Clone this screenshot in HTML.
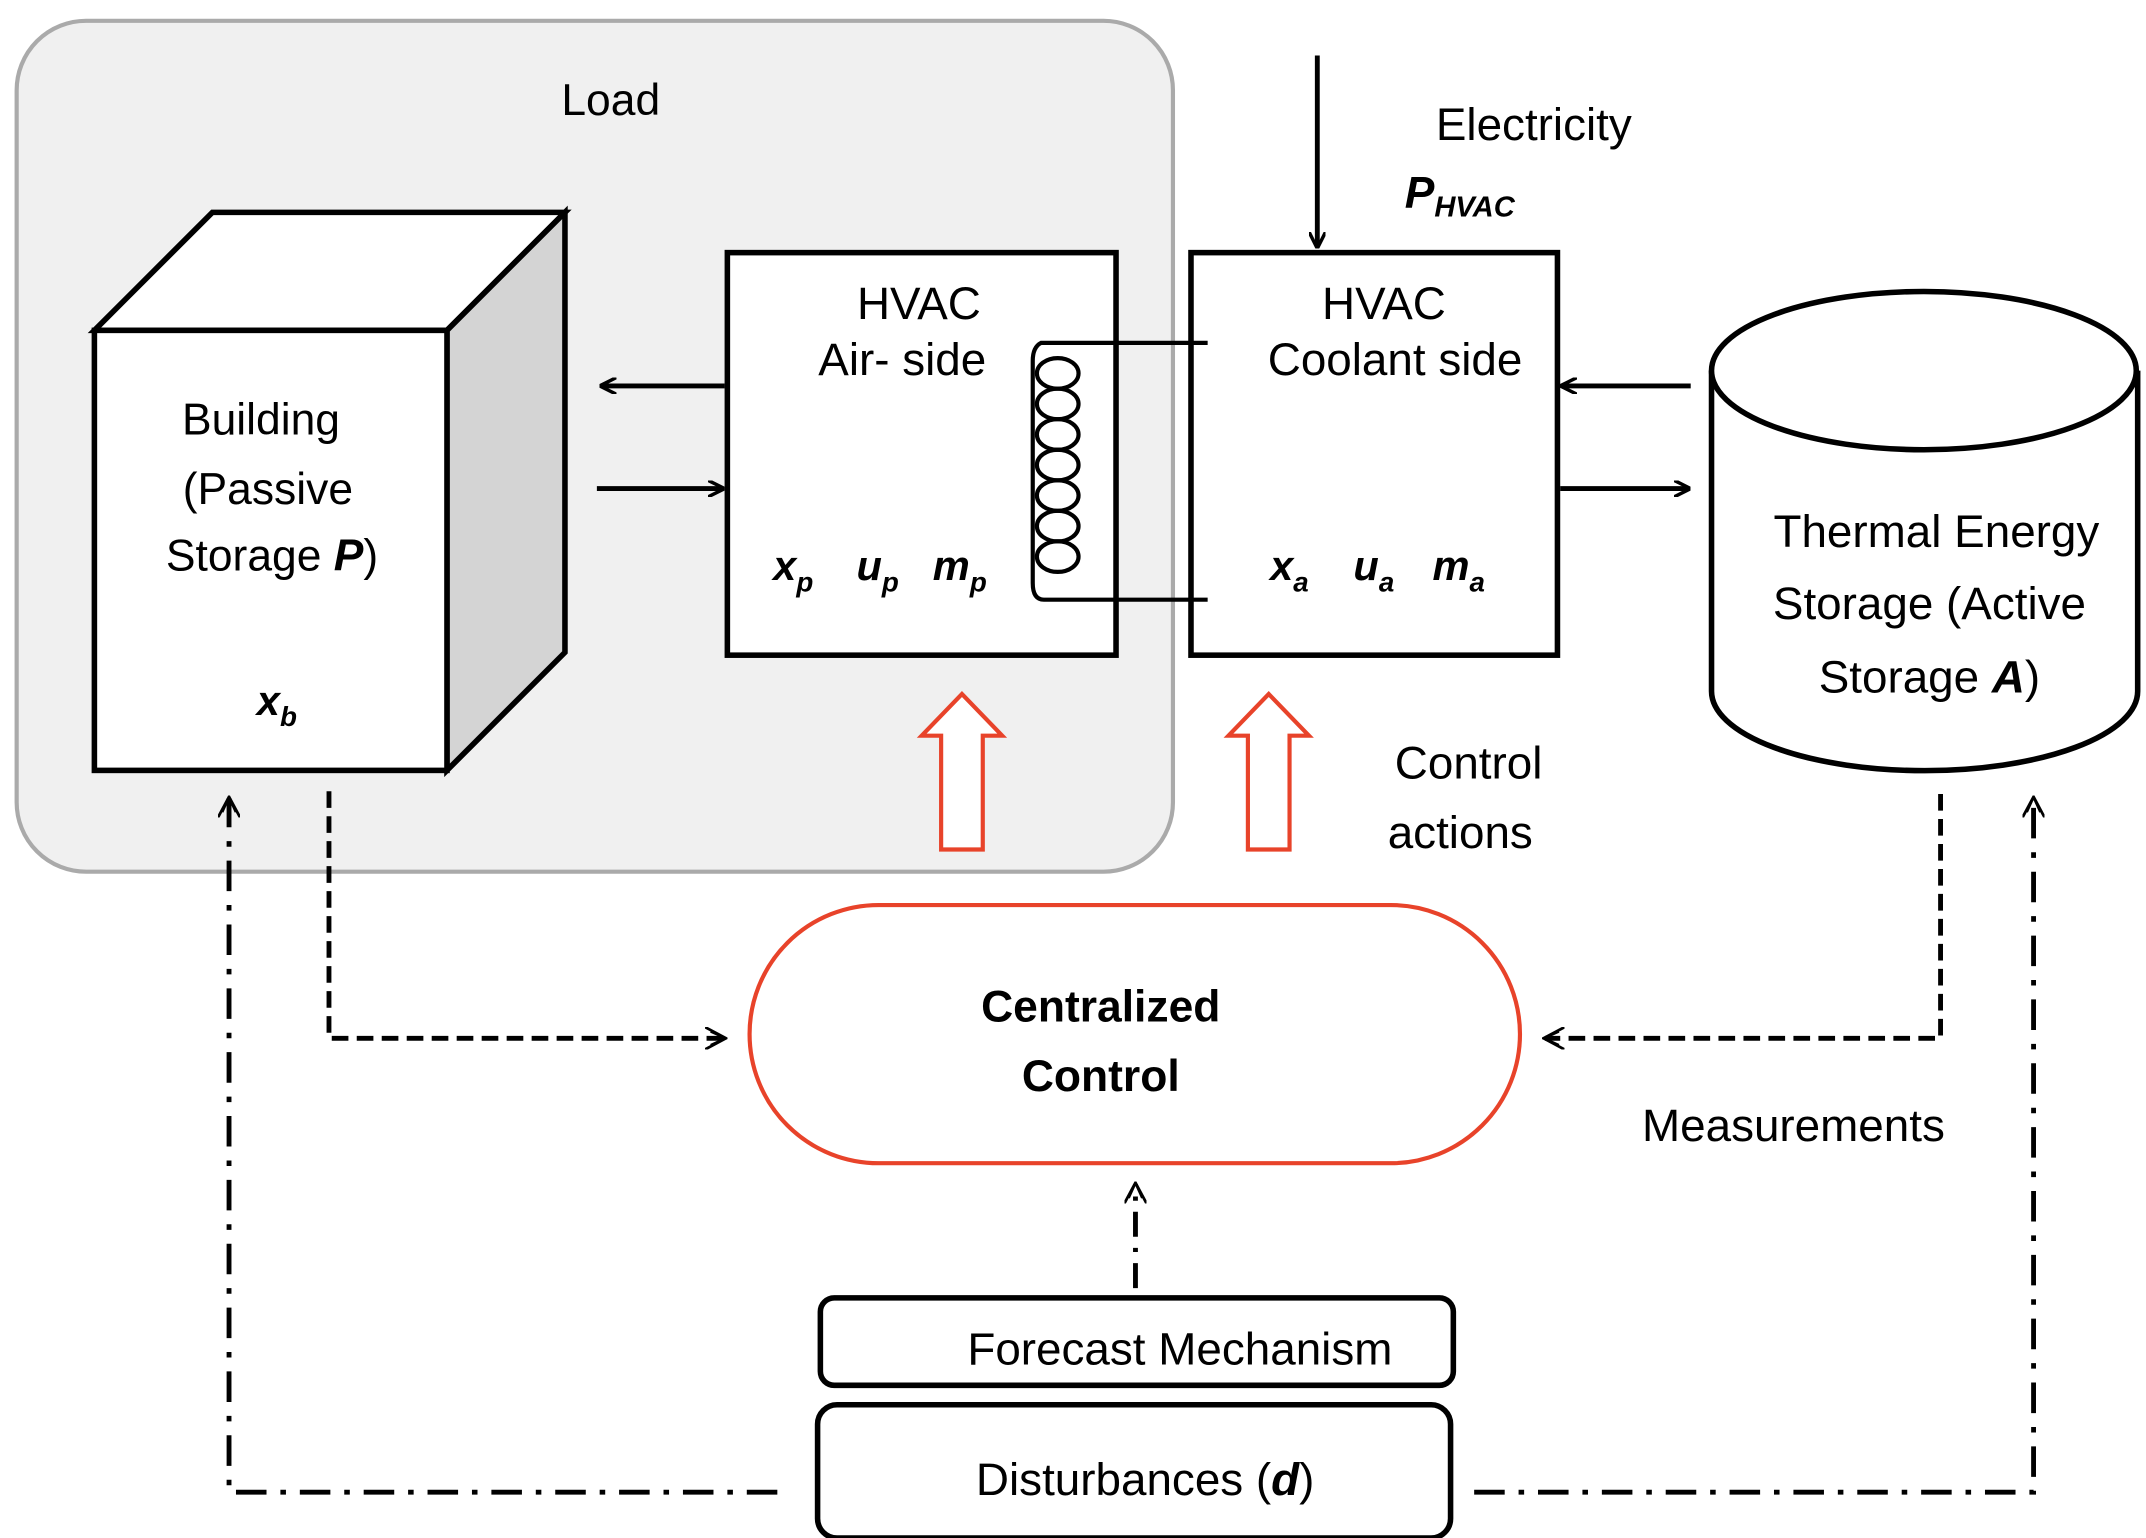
<!DOCTYPE html>
<html><head><meta charset="utf-8"><style>html,body{margin:0;padding:0;background:#fff}svg{display:block}</style></head>
<body>
<svg width="2146" height="1538" viewBox="0 0 1546 1108" preserveAspectRatio="none" xmlns="http://www.w3.org/2000/svg" font-family="Liberation Sans, sans-serif" font-size="33" fill="#000">
<defs>
<marker id="ah" markerWidth="12" markerHeight="12" refX="11" refY="6" orient="auto" markerUnits="userSpaceOnUse"><path d="M0,0 L12,6 L0,12" fill="none" stroke="#000" stroke-width="2.5"/></marker>
<marker id="ah2" markerWidth="16" markerHeight="16" refX="14" refY="8" orient="auto" markerUnits="userSpaceOnUse"><path d="M0,0 L15,8 L0,16 M4,3 L15,8 L4,13" fill="none" stroke="#000" stroke-width="2"/></marker>
</defs>
<rect x="12" y="15" width="833" height="613" rx="50" fill="#f0f0f0" stroke="#aaa" stroke-width="3"/>
<text x="440" y="83" text-anchor="middle" font-size="32">Load</text>
<polygon points="68,238 153,153 407,153 322,238" fill="#fff" stroke="#000" stroke-width="4"/>
<polygon points="322,238 407,153 407,470 322,555" fill="#d4d4d4" stroke="#000" stroke-width="4"/>
<rect x="68" y="238" width="254" height="317" fill="#fff" stroke="#000" stroke-width="4"/>
<g text-anchor="middle" font-size="32">
<text x="188" y="313">Building</text>
<text x="193" y="363">(Passive</text>
<text x="196" y="411">Storage  <tspan font-weight="bold" font-style="italic">P</tspan>)</text>
</g>
<text x="185" y="515" font-weight="bold" font-style="italic" font-size="30">x<tspan font-size="20" dy="8">b</tspan></text>
<rect x="524" y="182" width="280" height="290" fill="#fff" stroke="#000" stroke-width="4"/>
<rect x="858" y="182" width="264" height="290" fill="#fff" stroke="#000" stroke-width="4"/>
<g text-anchor="middle">
<text x="662" y="230">HVAC</text>
<text x="650" y="270">Air-  side</text>
<text x="997" y="230">HVAC</text>
<text x="1005" y="270">Coolant side</text>
</g>
<g font-weight="bold" font-style="italic" font-size="30">
<text x="557" y="418">x<tspan font-size="20" dy="8">p</tspan></text>
<text x="617" y="418">u<tspan font-size="20" dy="8">p</tspan></text>
<text x="672" y="418">m<tspan font-size="20" dy="8">p</tspan></text>
<text x="915" y="418">x<tspan font-size="20" dy="8">a</tspan></text>
<text x="975" y="418">u<tspan font-size="20" dy="8">a</tspan></text>
<text x="1032" y="418">m<tspan font-size="20" dy="8">a</tspan></text>
</g>
<g fill="none" stroke="#000" stroke-width="3">
<path d="M870,247 L750,247 Q744,250 744,260 L744,420 Q744,432 752,432 L870,432"/>
<ellipse cx="762" cy="269" rx="15" ry="11"/>
<ellipse cx="762" cy="291" rx="15" ry="11"/>
<ellipse cx="762" cy="313" rx="15" ry="11"/>
<ellipse cx="762" cy="335" rx="15" ry="11"/>
<ellipse cx="762" cy="357" rx="15" ry="11"/>
<ellipse cx="762" cy="379" rx="15" ry="11"/>
<ellipse cx="762" cy="401" rx="15" ry="11"/>
</g>
<g stroke="#000" stroke-width="3.5" fill="none" marker-end="url(#ah)">
<line x1="522" y1="278" x2="433" y2="278"/>
<line x1="430" y1="352" x2="521" y2="352"/>
<line x1="1218" y1="278" x2="1125" y2="278"/>
<line x1="1124" y1="352" x2="1217" y2="352"/>
<line x1="949" y1="40" x2="949" y2="178"/>
</g>
<text x="1105" y="101" text-anchor="middle">Electricity</text>
<text x="1012" y="150" font-weight="bold" font-style="italic" font-size="32">P<tspan font-size="21" dy="6">HVAC</tspan></text>
<path d="M1233,267 L1233,498 A153,57 0 0 0 1540,498 L1540,267" fill="#fff" stroke="#000" stroke-width="4"/>
<ellipse cx="1386" cy="267" rx="153" ry="57" fill="#fff" stroke="#000" stroke-width="4"/>
<g text-anchor="middle">
<text x="1395" y="394">Thermal Energy</text>
<text x="1390" y="446">Storage (Active</text>
<text x="1390" y="499">Storage <tspan font-weight="bold" font-style="italic">A</tspan>)</text>
</g>
<g fill="#fff" stroke="#e8432a" stroke-width="3">
<polygon points="678,612 678,530 664,530 693,500 722,530 708,530 708,612"/>
<polygon points="899,612 899,530 885,530 914,500 943,530 929,530 929,612"/>
</g>
<text x="1058" y="561" text-anchor="middle">Control</text>
<text x="1052" y="611" text-anchor="middle">actions</text>
<rect x="540" y="652" width="555" height="186" rx="93" fill="#fff" stroke="#e8432a" stroke-width="3"/>
<g text-anchor="middle" font-weight="bold" font-size="32">
<text x="793" y="736">Centralized</text>
<text x="793" y="786">Control</text>
</g>
<text x="1292" y="822" text-anchor="middle">Measurements</text>
<rect x="591" y="935" width="456" height="63" rx="10" fill="#fff" stroke="#000" stroke-width="4"/>
<text x="850" y="983" text-anchor="middle">Forecast Mechanism</text>
<rect x="589" y="1012" width="456" height="96" rx="14" fill="#fff" stroke="#000" stroke-width="4"/>
<text x="825" y="1077" text-anchor="middle">Disturbances (<tspan font-weight="bold" font-style="italic">d</tspan>)</text>
<g fill="none" stroke="#000" stroke-width="3.5">
<path d="M237,570 L237,748 L522,748" stroke-dasharray="12,6" marker-end="url(#ah2)"/>
<path d="M1398,572 L1398,748 L1113,748" stroke-dasharray="12,6" marker-end="url(#ah2)"/>
<path d="M818,928 L818,853" stroke-dasharray="18,8,3,8" marker-end="url(#ah2)"/>
<path d="M560,1075 L165,1075 L165,575" stroke-dasharray="22,10,4,10" marker-end="url(#ah2)"/>
<path d="M1062,1075 L1465,1075 L1465,575" stroke-dasharray="22,10,4,10" marker-end="url(#ah2)"/>
</g>
</svg>
</body></html>
